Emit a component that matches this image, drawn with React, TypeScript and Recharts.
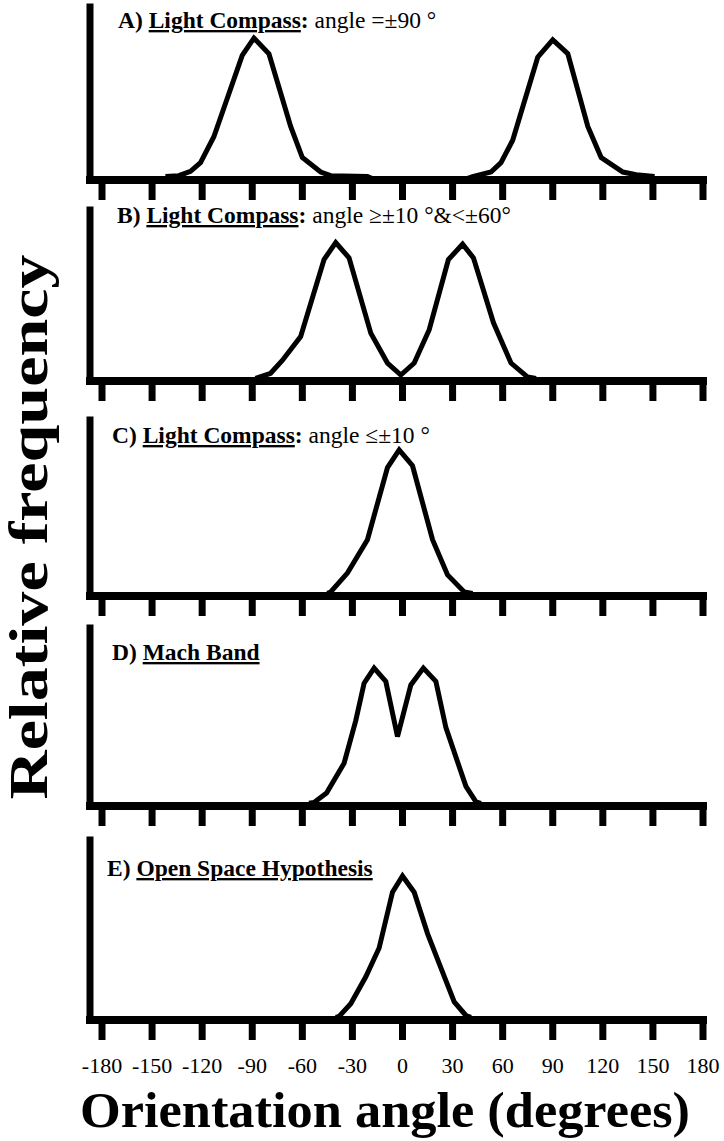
import React from "react";
import { LineChart, Line, XAxis, YAxis } from "recharts";

const ticksX = [-180, -150, -120, -90, -60, -30, 0, 30, 60, 90, 120, 150, 180];

const anglesA = [-142, -134, -127, -121, -113, -96, -89, -80, -67, -60, -49, -43, -21, -16, 36, 42, 53, 59, 66, 81, 90, 99, 111, 119, 132, 140, 151];
const freqA = [2, 2.5, 5, 10, 25, 72, 82, 73, 31, 13, 4.6, 2.5, 2, 0, 0, 2, 4.6, 10, 23, 71, 81, 73, 31, 13, 4.6, 3, 2];

const anglesB = [-88, -79, -72, -61, -47, -40, -32, -19, -9, -1, 7, 16, 27.5, 36, 42.5, 54.5, 65, 75, 80];
const freqB = [1.5, 4.5, 12, 26, 71, 81, 72, 28, 10.5, 3.5, 10.5, 30, 71, 80, 72, 34, 10.5, 2.3, 1.5];

const anglesC = [-45, -43, -33, -21, -9, -2, 6, 18, 27, 37, 42];
const freqC = [1.5, 2.3, 13, 32, 73, 83, 74, 32, 12, 2.3, 1.5];

const anglesD = [-56, -53, -45.5, -35, -28, -23, -17, -10, -3, 5, 12.5, 20, 26, 38, 44, 47];
const freqD = [1.5, 2, 7.3, 24, 48, 69, 77.5, 70, 39, 68, 77.5, 70, 44, 11, 2.3, 1.5];

const anglesE = [-40, -38, -31, -22, -14, -6, 0, 7, 15, 23, 31, 38, 41];
const freqE = [1.5, 2, 9, 24, 40, 71, 80, 71, 48, 29, 10, 2.5, 1.5];

const zip = (a: number[], f: number[]) => a.map((angle, i) => ({ angle, freq: f[i] }));

const SERIF = "'Liberation Serif', 'Times New Roman', Times, serif";

type PanelProps = { data: { angle: number; freq: number }[]; plotTop: number; plotHeight: number; showLabels?: boolean };

function Panel({ data, plotTop, plotHeight, showLabels }: PanelProps) {
  const axisH = showLabels ? 64 : 26;
  const mTop = 6;
  return (
    <div style={{ position: "absolute", left: 0, top: plotTop - mTop }}>
      <LineChart
        width={724}
        height={mTop + plotHeight + axisH}
        data={data}
        margin={{ top: mTop, right: 21, bottom: 0, left: 89 }}
      >
        <XAxis
          type="number"
          dataKey="angle"
          domain={[-180, 180]}
          ticks={ticksX}
          interval={0}
          padding={{ left: 12, right: 0 }}
          height={axisH}
          axisLine={{ stroke: "#000", strokeWidth: 8, strokeLinecap: "square" }}
          tickLine={{ stroke: "#000", strokeWidth: 7 }}
          tickSize={20}
          tickMargin={17}
          tick={showLabels ? { fill: "#000", fontSize: 22, fontFamily: SERIF } : () => <g />}
          allowDataOverflow
        />
        <YAxis
          domain={[0, 100]}
          width={1}
          tick={false}
          tickLine={false}
          axisLine={{ stroke: "#000", strokeWidth: 7, strokeLinecap: "square" }}
        />
        <Line
          type="linear"
          dataKey="freq"
          stroke="#000"
          strokeWidth={5}
          dot={false}
          activeDot={false}
          isAnimationActive={false}
        />
      </LineChart>
    </div>
  );
}

function Title({ x, y, letter, name, colon, rest }: { x: number; y: number; letter: string; name: string; colon: boolean; rest?: string }) {
  return (
    <text x={x} y={y} fontFamily={SERIF} fontSize={23.5} fill="#000">
      <tspan fontWeight="bold">{letter} </tspan>
      <tspan fontWeight="bold" style={{ textDecoration: "underline" }}>{name}</tspan>
      {colon ? <tspan fontWeight="bold">:</tspan> : null}
      {rest ? <tspan>{rest}</tspan> : null}
    </text>
  );
}

export default function App() {
  return (
    <div style={{ position: "relative", width: 724, height: 1141, overflow: "hidden" }}>
      <style>{`html,body{margin:0;padding:0;overflow:hidden;background:#fff}`}</style>
      <Panel data={zip(anglesA, freqA)} plotTop={7} plotHeight={173} />
      <Panel data={zip(anglesB, freqB)} plotTop={210} plotHeight={171} />
      <Panel data={zip(anglesC, freqC)} plotTop={420} plotHeight={176} />
      <Panel data={zip(anglesD, freqD)} plotTop={628} plotHeight={178} />
      <Panel data={zip(anglesE, freqE)} plotTop={840} plotHeight={180} showLabels />
      <svg
        width={724}
        height={1141}
        style={{ position: "absolute", left: 0, top: 0, pointerEvents: "none" }}
      >
        <Title x={118} y={28} letter="A)" name="Light Compass" colon rest=" angle =±90 °" />
        <Title x={117} y={223} letter="B)" name="Light Compass" colon rest=" angle ≥±10 °&<±60°" />
        <Title x={112} y={443} letter="C)" name="Light Compass" colon rest=" angle ≤±10 °" />
        <Title x={112} y={660} letter="D)" name="Mach Band" colon={false} />
        <Title x={107} y={876} letter="E)" name="Open Space Hypothesis" colon={false} />
        <text
          x={47}
          y={527}
          transform="rotate(-90, 47, 527)"
          textAnchor="middle"
          fontFamily={SERIF}
          fontWeight="bold"
          fontSize={54}
          textLength={545}
          lengthAdjust="spacingAndGlyphs"
          fill="#000"
        >
          Relative frequency
        </text>
        <text
          x={385}
          y={1127}
          textAnchor="middle"
          fontFamily={SERIF}
          fontWeight="bold"
          fontSize={50}
          textLength={610}
          lengthAdjust="spacingAndGlyphs"
          fill="#000"
        >
          Orientation angle (degrees)
        </text>
      </svg>
    </div>
  );
}
